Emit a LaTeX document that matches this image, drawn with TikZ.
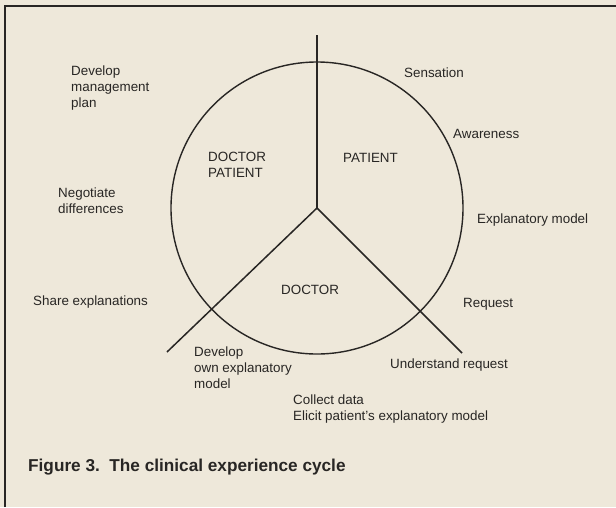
\documentclass[tikz,border=0pt]{standalone}
\usepackage{fontspec}
\setmainfont{Liberation Sans}
\definecolor{paper}{HTML}{EEE8DA}
\definecolor{ink}{HTML}{282624}
\begin{document}
\begin{tikzpicture}[x=1pt,y=-1pt,
  lbl/.style={anchor=west, inner sep=0pt, align=left, text=ink,
    font=\fontsize{13.4}{16}\selectfont},
  spoke/.style={draw=ink, line width=1.5pt},
  ring/.style={circle, draw=ink, line width=1.4pt, minimum size=292pt, inner sep=0pt},
  caption/.style={anchor=west, inner sep=0pt, text=ink,
    font=\bfseries\fontsize{17.2}{20}\selectfont}]
\useasboundingbox (0,0) rectangle (616,507);
\fill[paper] (0,0) rectangle (616,507);
% frame: top rule and left rule
\draw[ink, line width=2pt] (5,507) -- (5,6) -- (616,6);

% the cycle
\coordinate (hub) at (317,208);
\node[ring] (cycle) at (hub) {};
\coordinate (top) at (317,35);
\coordinate (lowleft) at (167,352);
\coordinate (lowright) at (462,353);
\draw[spoke] (hub) -- (top);
\draw[spoke] (hub) -- (lowleft);
\draw[spoke] (hub) -- (lowright);

% sector names
\node[lbl] (dp) at (208,165) {DOCTOR\\PATIENT};
\node[lbl] (pat) at (343,158) {PATIENT};
\node[lbl] (doc) at (281,290) {DOCTOR};

% stages round the cycle
\node[lbl] (sens) at (404,73) {Sensation};
\node[lbl] (aware) at (453,134) {Awareness};
\node[lbl] (expl) at (477,220) {Explanatory model};
\node[lbl] (req) at (463,304) {Request};
\node[lbl] (under) at (390,365) {Understand request};
\node[lbl] (collect) at (293,409) {Collect data\\Elicit patient's explanatory model};
\node[lbl] (own) at (194,368) {Develop\\own explanatory\\model};
\node[lbl] (share) at (33,302) {Share explanations};
\node[lbl] (nego) at (58,201) {Negotiate\\differences};
\node[lbl] (plan) at (71,88) {Develop\\management\\plan};

\node[caption] (cap) at (28,467) {Figure 3.\ \ The clinical experience cycle};
\end{tikzpicture}
\end{document}
